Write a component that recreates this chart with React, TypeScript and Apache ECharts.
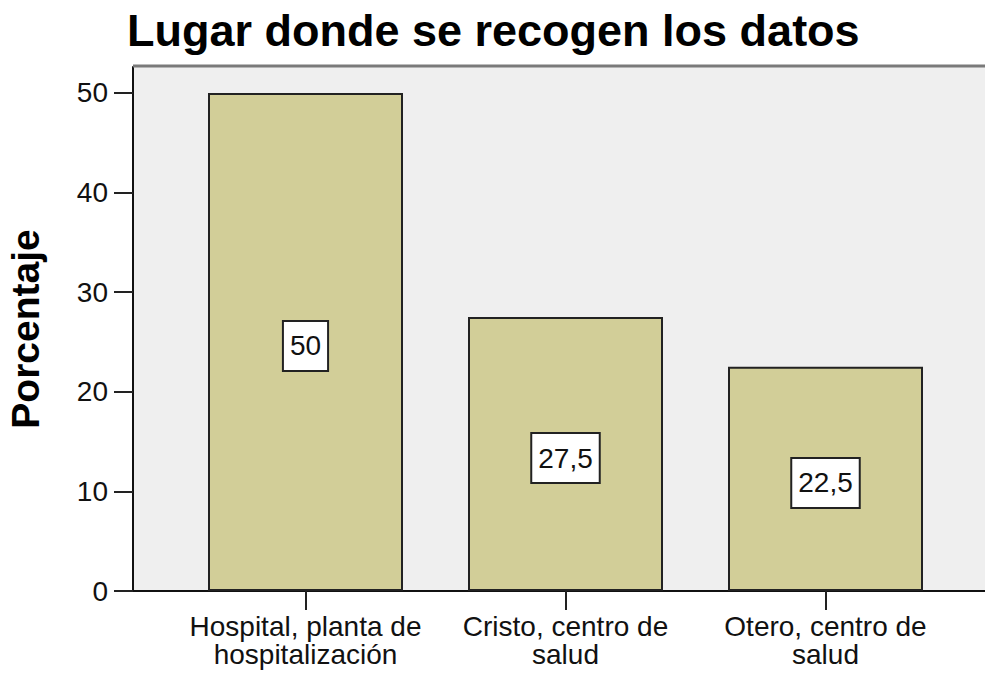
import React, { useEffect, useRef } from "react";
import * as echarts from "echarts";

const title = "Lugar donde se recogen los datos";
const yAxisName = "Porcentaje";
const categories = [
  "Hospital, planta de\nhospitalización",
  "Cristo, centro de\nsalud",
  "Otero, centro de\nsalud",
];
const percentages = [50, 27.5, 22.5];
const yTicks = [0, 10, 20, 30, 40, 50];
const yMax = 52.6;

const FONT = 'Arial, "Liberation Sans", sans-serif';

export default function App() {
  const ref = useRef<HTMLDivElement>(null);
  useEffect(() => {
    if (!ref.current) return;
    const chart = echarts.init(ref.current, undefined, { renderer: "svg" });
    chart.setOption({
      animation: false,
      backgroundColor: "#ffffff",
      textStyle: { fontFamily: FONT },
      title: {
        text: title,
        left: 122,
        top: 3,
        textStyle: { fontFamily: FONT, fontSize: 45, fontWeight: "bold", color: "#000" },
      },
      grid: [
        {
          left: 133, right: 0, top: 67, bottom: 83,
          show: true, backgroundColor: "#efefef", borderWidth: 0,
          outerBoundsMode: "none", containLabel: false,
        },
        {
          left: 175.5, width: 780, top: 67, bottom: 83,
          outerBoundsMode: "none", containLabel: false,
        },
      ],
      xAxis: [
        {
          gridIndex: 0,
          type: "value",
          min: 0,
          max: 1,
          axisLine: { show: true, lineStyle: { color: "#111", width: 2 } },
          axisTick: { show: false },
          axisLabel: { show: false },
          splitLine: { show: false },
        },
        {
          gridIndex: 1,
          type: "category",
          data: categories,
          axisLine: { show: false },
          axisTick: { show: true, alignWithLabel: true, length: 19, lineStyle: { color: "#222", width: 2 } },
          axisLabel: {
            fontFamily: FONT,
            fontSize: 28,
            lineHeight: 28,
            color: "#111",
            margin: 21,
            interval: 0,
          },
          splitLine: { show: false },
        },
      ],
      yAxis: [
        {
          gridIndex: 0,
          type: "value",
          min: 0,
          max: yMax,
          name: yAxisName,
          nameLocation: "middle",
          nameRotate: 90,
          nameGap: 88,
          nameTextStyle: { fontFamily: FONT, fontSize: 39, fontWeight: "bold", color: "#000" },
          axisLine: { show: true, lineStyle: { color: "#111", width: 2 } },
          axisTick: { show: true, length: 19, customValues: yTicks, lineStyle: { color: "#222", width: 2 } },
          axisLabel: {
            customValues: yTicks,
            fontFamily: FONT,
            fontSize: 28,
            color: "#111",
            margin: 25,
          },
          splitLine: { show: false },
        },
        {
          gridIndex: 1,
          type: "value",
          min: 0,
          max: yMax,
          show: false,
          splitLine: { show: false },
        },
      ],
      graphic: [
        {
          type: "line",
          shape: { x1: 133, y1: 66, x2: 985, y2: 66 },
          style: { stroke: "#7a7a7a", lineWidth: 3 },
          z: 10,
        },
      ],
      series: [
        {
          type: "bar",
          xAxisIndex: 1,
          yAxisIndex: 1,
          data: percentages,
          barWidth: 195,
          itemStyle: { color: "#d2ce98", borderColor: "#222", borderWidth: 2 },
          label: {
            show: true,
            position: "inside",
            offset: [0, 4],
            formatter: (p: any) => String(p.value).replace(".", ","),
            fontFamily: FONT,
            fontSize: 28,
            lineHeight: 30,
            color: "#111",
            backgroundColor: "#ffffff",
            borderColor: "#222",
            borderWidth: 2,
            padding: [9, 6, 9, 6],
          },
        },
      ],
    });
    return () => chart.dispose();
  }, []);
  return (
    <div
      ref={ref}
      style={{ position: "absolute", left: 0, top: 0, width: 985, height: 674 }}
    />
  );
}
